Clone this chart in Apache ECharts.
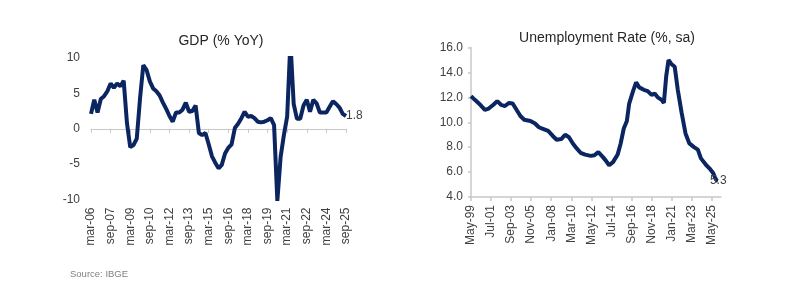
<!DOCTYPE html>
<html>
<head>
<meta charset="utf-8">
<script src="https://cdn.jsdelivr.net/npm/echarts@6/dist/echarts.min.js"></script>
<style>
html, body { margin: 0; padding: 0; background: #fff; }
#main { width: 798px; height: 298px; }
</style>
</head>
<body>
<div id="main"></div>
<script>
// GDP % YoY, quarterly, mar-06 .. sep-25
var gdpStartYear = 2006;
var gdpYoY = [
    2.1, 4.1, 2.3, 4.2, 4.6, 5.3, 6.4, 5.8, 6.4, 6.0,
    6.8, 0.8, -2.6, -2.3, -1.4, 4.3, 9.0, 8.3, 6.7, 5.7,
    5.3, 4.7, 3.7, 2.8, 1.8, 1.0, 2.3, 2.3, 2.7, 3.7,
    2.4, 2.5, 3.3, -0.6, -0.9, -0.6, -2.2, -3.9, -4.8, -5.6,
    -5.1, -3.5, -2.7, -2.2, 0.1, 0.7, 1.5, 2.4, 1.7, 1.8,
    1.5, 1.0, 0.9, 1.0, 1.2, 1.5, 0.5, -10.2, -4.0, -0.9,
    1.7, 12.3, 3.5, 1.4, 1.4, 3.3, 4.1, 2.4, 4.1, 3.6,
    2.3, 2.3, 2.3, 3.1, 3.9, 3.5, 3.0, 2.1, 1.8
];
var gdpTicks = [-10, -5, 0, 5, 10];

// unemployment rate (%, sa)
var unempMonths = [
    'May-99', 'Oct-99', 'May-00', 'Nov-00', 'Apr-01', 'Oct-01', 'Mar-02', 'Aug-02',
    'Jan-03', 'Jun-03', 'Nov-03', 'Apr-04', 'Sep-04', 'Feb-05', 'Oct-05', 'Apr-06',
    'Sep-06', 'Mar-07', 'Sep-07', 'Mar-08', 'Aug-08', 'Feb-09', 'Jul-09', 'Dec-09',
    'May-10', 'Oct-10', 'Mar-11', 'Sep-11', 'Apr-12', 'Sep-12', 'Feb-13', 'Aug-13',
    'Dec-13', 'Apr-14', 'Sep-14', 'Mar-15', 'Jul-15', 'Nov-15', 'Mar-16', 'Jun-16',
    'Nov-16', 'Mar-17', 'Jul-17', 'Jan-18', 'Jun-18', 'Nov-18', 'Mar-19', 'Jul-19',
    'Dec-19', 'Mar-20', 'Jun-20', 'Sep-20', 'Jan-21', 'May-21', 'Sep-21', 'Feb-22',
    'Jul-22', 'Dec-22', 'Jun-23', 'Nov-23', 'Mar-24', 'Oct-24', 'Feb-25', 'Jul-25',
    'Sep-25', 'Nov-25', 'Jan-26'
];
var unempRate = [
    12.1, 11.8, 11.4, 11.0, 11.1, 11.4, 11.7, 11.4,
    11.3, 11.55, 11.5, 11.0, 10.5, 10.2, 10.1, 9.9,
    9.6, 9.45, 9.3, 8.9, 8.6, 8.65, 9.0, 8.8,
    8.3, 7.9, 7.55, 7.4, 7.3, 7.35, 7.6, 7.2,
    6.9, 6.55, 6.8, 7.4, 8.3, 9.5, 10.1, 11.5,
    12.5, 13.2, 12.8, 12.6, 12.5, 12.2, 12.3, 12.0,
    11.8, 11.55, 13.7, 15.0, 14.65, 14.45, 12.6, 10.75,
    9.1, 8.3, 8.0, 7.8, 7.1, 6.55, 6.3, 5.9,
    5.6, 5.35, 5.3
];
var unempTicks = [4, 6, 8, 10, 12, 14, 16];

var lineColor = '#0b2560';
var textColor = '#404040';
var axisGray = '#c8c8c8';
var font = '"Liberation Sans", Arial, sans-serif';

// quarter labels mar-06, jun-06, ...
var qNames = ['mar', 'jun', 'sep', 'dec'];
var gdpCats = [];
for (var i = 0; i < gdpYoY.length; i++) {
    var yr = gdpStartYear + Math.floor(i / 4);
    gdpCats.push(qNames[i % 4] + '-' + String(yr % 100).padStart(2, '0'));
}

// month labels May-99 .. May-26
var mNames = ['Jan', 'Feb', 'Mar', 'Apr', 'May', 'Jun', 'Jul', 'Aug', 'Sep', 'Oct', 'Nov', 'Dec'];
var unempCats = [];
for (var m = 0; m <= 324; m++) {
    var k = 4 + m;
    var y = 1999 + Math.floor(k / 12);
    unempCats.push(mNames[k % 12] + '-' + String(y % 100).padStart(2, '0'));
}

var myChart = echarts.init(document.getElementById('main'));

var option = {
    animation: false,
    textStyle: { fontFamily: font },
    graphic: [
        {
            type: 'text', x: 221, y: 41,
            style: { text: 'GDP (% YoY)', font: '14px ' + font, fill: '#262626', align: 'center', verticalAlign: 'middle' }
        },
        {
            type: 'text', x: 607, y: 38,
            style: { text: 'Unemployment Rate (%, sa)', font: '14px ' + font, fill: '#262626', align: 'center', verticalAlign: 'middle' }
        },
        {
            type: 'text', x: 70, y: 274,
            style: { text: 'Source: IBGE', font: '9.5px ' + font, fill: '#808080', align: 'left', verticalAlign: 'middle' }
        }
    ],
    grid: [
        { left: 91, right: 452, top: 58, bottom: 98.5 },
        { left: 471, right: 77, top: 47.5, bottom: 101 }
    ],
    xAxis: [
        {
            gridIndex: 0,
            type: 'category',
            data: gdpCats,
            boundaryGap: false,
            position: 'bottom',
            axisLine: { show: false, onZero: false },
            axisTick: { show: false },
            splitLine: { show: false },
            axisLabel: {
                interval: 5,
                rotate: 90,
                margin: 8,
                fontSize: 12,
                color: textColor
            }
        },
        {
            gridIndex: 0,
            type: 'category',
            data: gdpCats,
            boundaryGap: false,
            position: 'top',
            axisLine: { show: true, onZero: true, lineStyle: { color: axisGray, width: 1 } },
            axisTick: { show: true, interval: 5, inside: true, length: 4, lineStyle: { color: axisGray } },
            axisLabel: { show: false },
            splitLine: { show: false }
        },
        {
            gridIndex: 1,
            type: 'category',
            data: unempCats,
            boundaryGap: false,
            axisLine: { lineStyle: { color: axisGray, width: 1.5 } },
            axisTick: { show: true, interval: 25, length: 4, lineStyle: { color: axisGray, width: 1.5 } },
            splitLine: { show: false },
            axisLabel: {
                interval: 25,
                rotate: 90,
                margin: 8,
                fontSize: 12,
                color: textColor
            }
        }
    ],
    yAxis: [
        {
            gridIndex: 0,
            type: 'value',
            min: gdpTicks[0],
            max: gdpTicks[gdpTicks.length - 1],
            interval: 5,
            axisLine: { show: false },
            axisTick: { show: false },
            splitLine: { show: false },
            axisLabel: { fontSize: 12, color: textColor, margin: 11 }
        },
        {
            gridIndex: 1,
            type: 'value',
            min: unempTicks[0],
            max: unempTicks[unempTicks.length - 1],
            interval: 2,
            axisLine: { show: true, lineStyle: { color: axisGray, width: 1.5 } },
            axisTick: { show: true, length: 3, lineStyle: { color: axisGray, width: 1.5 } },
            splitLine: { show: false },
            axisLabel: {
                fontSize: 12,
                color: textColor,
                margin: 8,
                formatter: function(v) { return v.toFixed(1); }
            }
        }
    ],
    series: [
        {
            name: 'GDP',
            type: 'line',
            xAxisIndex: 0,
            yAxisIndex: 0,
            data: gdpYoY,
            symbol: 'none',
            clip: true,
            lineStyle: { color: lineColor, width: 4 },
            endLabel: {
                show: true,
                color: textColor,
                fontSize: 12,
                distance: 0,
                formatter: function(p) { return p.value; }
            }
        },
        {
            name: 'Unemployment',
            type: 'line',
            xAxisIndex: 2,
            yAxisIndex: 1,
            data: unempMonths.map(function(mm, i) { return [mm, unempRate[i]]; }),
            symbol: 'none',
            lineStyle: { color: lineColor, width: 4 },
            endLabel: {
                show: true,
                color: textColor,
                fontSize: 12,
                distance: -8,
                formatter: function(p) { return p.value[1].toFixed(1); }
            }
        }
    ]
};

myChart.setOption(option);
</script>
</body>
</html>
